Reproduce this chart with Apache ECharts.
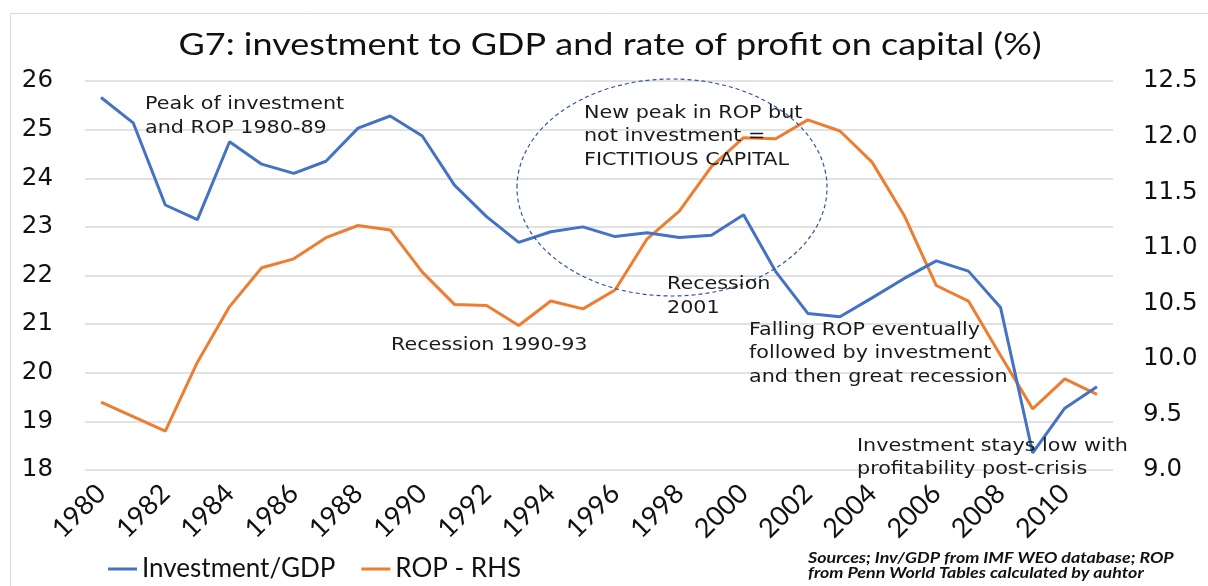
<!DOCTYPE html>
<html>
<head>
<meta charset="utf-8">
<script src="https://cdn.jsdelivr.net/npm/echarts@6/dist/echarts.min.js"></script>
<style>
html,body{margin:0;padding:0;background:#fff;}
#chart{width:1208px;height:586px;}
</style>
</head>
<body>
<div id="chart"></div>
<script>
const years = ['1980','1981','1982','1983','1984','1985','1986','1987','1988','1989','1990','1991','1992','1993','1994','1995','1996','1997','1998','1999','2000','2001','2002','2003','2004','2005','2006','2007','2008','2009','2010','2011'];
const investmentGDP = [25.66,25.14,23.45,23.15,24.75,24.29,24.10,24.35,25.03,25.28,24.87,23.86,23.21,22.68,22.90,23.00,22.80,22.88,22.78,22.83,23.25,22.08,21.22,21.15,21.54,21.94,22.30,22.09,21.34,18.35,19.27,19.71];
const rop = [9.61,9.48,9.35,9.97,10.47,10.82,10.90,11.09,11.20,11.16,10.78,10.49,10.48,10.30,10.52,10.45,10.62,11.08,11.33,11.73,11.99,11.98,12.15,12.05,11.77,11.29,10.66,10.52,10.03,9.55,9.82,9.68];
const leftTicks = {min:18, max:26, interval:1};
const rightTicks = {min:9, max:12.5, interval:0.5};

const chart = echarts.init(document.getElementById('chart'));
const annoFont = '"DejaVu Sans", Verdana, sans-serif';
const calFont = 'Lato, "Open Sans", sans-serif';
function anno(x, y, txt){
  return {type:'text', x:x, y:y, scaleX:1.15, style:{text:txt, font:'18px ' + annoFont, fill:'#1a1a1a', textAlign:'left', textVerticalAlign:'middle'}, z:20};
}
chart.setOption({
  animation:false,
  backgroundColor:'#fff',
  legend:{left:103, top:551, itemWidth:29, itemHeight:3, icon:'rect', itemGap:26,
    textStyle:{fontFamily:calFont, fontSize:26, color:'#111'},
    data:['Investment/GDP','ROP - RHS']},
  grid:{left:85, right:95, top:81, bottom:116},
  xAxis:{type:'category', data:years, boundaryGap:true,
    axisLine:{show:false}, axisTick:{show:false},
    axisLabel:{interval:1, rotate:45, margin:19, fontFamily:calFont, fontSize:27, color:'#111'}},
  yAxis:[
    {type:'value', min:leftTicks.min, max:leftTicks.max, interval:leftTicks.interval,
     axisLine:{show:false}, axisTick:{show:false},
     axisLabel:{margin:32, fontFamily:annoFont, fontSize:24.5, color:'#111'},
     splitLine:{lineStyle:{color:'#d9d9d9', width:1.5}}},
    {type:'value', min:rightTicks.min, max:rightTicks.max, interval:rightTicks.interval,
     axisLine:{show:false}, axisTick:{show:false}, splitLine:{show:false},
     axisLabel:{margin:30, fontFamily:annoFont, fontSize:24.5, color:'#111', formatter:v=>v.toFixed(1)}}
  ],
  series:[
    {name:'Investment/GDP', type:'line', data:investmentGDP, yAxisIndex:0, symbol:'none',
     lineStyle:{color:'#4472C4', width:3}, itemStyle:{color:'#4472C4'}, z:3},
    {name:'ROP - RHS', type:'line', data:rop, yAxisIndex:1, symbol:'none',
     lineStyle:{color:'#ED7D31', width:3}, itemStyle:{color:'#ED7D31'}, z:2}
  ],
  graphic:[
    {type:'rect', shape:{x:10.5, y:13.5, width:1210, height:600}, style:{fill:'none', stroke:'#d9d9d9', lineWidth:1}, silent:true, z:-1},
    {type:'text', x:610, y:45, scaleX:1.2, style:{text:'G7: investment to GDP and rate of profit on capital (%)', font:'30px ' + calFont, fill:'#111', textAlign:'center', textVerticalAlign:'middle'}},
    {type:'ellipse', shape:{cx:672, cy:187.5, rx:155, ry:108.5}, style:{fill:'none', stroke:'#2F5597', lineWidth:1.2, lineDash:[4,3]}, z:10},
    anno(145,104,'Peak of investment'),
    anno(145,128,'and ROP 1980-89'),
    anno(584,113,'New peak in ROP but'),
    anno(584,136,'not investment ='),
    anno(584,160,'FICTITIOUS CAPITAL'),
    anno(667,284,'Recession'),
    anno(667,308,'2001'),
    anno(391,345,'Recession 1990-93'),
    anno(749,330,'Falling ROP eventually'),
    anno(749,353,'followed by investment'),
    anno(749,377,'and then great recession'),
    anno(857,446,'Investment stays low with'),
    anno(857,469,'profitability post-crisis'),
    {type:'text', x:808, y:558, scaleX:1.23, style:{text:'Sources; Inv/GDP from IMF WEO database; ROP', font:'italic bold 14.5px ' + calFont, fill:'#111', textAlign:'left', textVerticalAlign:'middle'}},
    {type:'text', x:808, y:573, scaleX:1.23, style:{text:'from Penn World Tables calculated by auhtor', font:'italic bold 14.5px ' + calFont, fill:'#111', textAlign:'left', textVerticalAlign:'middle'}}
  ]
});
</script>
</body>
</html>
